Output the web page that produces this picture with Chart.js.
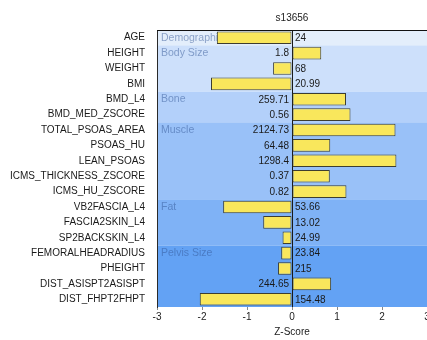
<!DOCTYPE html>
<html>
<head>
<meta charset="utf-8">
<script src="https://cdn.jsdelivr.net/npm/chart.js@4.4.1/dist/chart.umd.min.js"></script>
<style>
  html, body { margin: 0; padding: 0; background: #fff; overflow: hidden; }
  #wrap { width: 440px; height: 340px; position: relative; }
</style>
</head>
<body>
<div id="wrap"><canvas id="c"></canvas></div>
<script>
// Measurements, top to bottom
const categories = [
  'AGE', 'HEIGHT', 'WEIGHT', 'BMI', 'BMD_L4', 'BMD_MED_ZSCORE',
  'TOTAL_PSOAS_AREA', 'PSOAS_HU', 'LEAN_PSOAS', 'ICMS_THICKNESS_ZSCORE', 'ICMS_HU_ZSCORE',
  'VB2FASCIA_L4', 'FASCIA2SKIN_L4', 'SP2BACKSKIN_L4',
  'FEMORALHEADRADIUS', 'PHEIGHT', 'DIST_ASISPT2ASISPT', 'DIST_FHPT2FHPT'
];
// Z-score for each measurement
const zScores = [
  -1.67, 0.65, -0.42, -1.80, 1.20, 1.30,
  2.30, 0.85, 2.32, 0.84, 1.21,
  -1.53, -0.64, -0.21,
  -0.24, -0.31, 0.87, -2.05
];
// Raw measured value shown next to each bar
const rawValues = [
  '24', '1.8', '68', '20.99', '259.71', '0.56',
  '2124.73', '64.48', '1298.4', '0.37', '0.82',
  '53.66', '13.02', '24.99',
  '23.84', '215', '244.65', '154.48'
];
// Measurement groups and how many rows each spans
const groupNames = ['Demographic', 'Body Size', 'Bone', 'Muscle', 'Fat', 'Pelvis Size'];
const groupSizes = [1, 3, 2, 5, 3, 4];
const xTicks = [-3, -2, -1, 0, 1, 2, 3];
const subjectId = 's13656';

const bandColors = ['#e3eefb', '#cde0fb', '#b3d0fa', '#99c1f8', '#7fb2f6', '#63a2f4'];
const FONT = 'Liberation Sans, Arial, sans-serif';

const groupBands = {
  id: 'groupBands',
  beforeDraw(chart) {
    const { ctx, chartArea: a, scales: { y } } = chart;
    const half = (y.getPixelForValue(1) - y.getPixelForValue(0)) / 2;
    let idx = 0;
    ctx.save();
    groupSizes.forEach((n, g) => {
      const top = y.getPixelForValue(idx) - half;
      const bottom = y.getPixelForValue(idx + n - 1) + half;
      ctx.fillStyle = bandColors[g];
      ctx.fillRect(a.left, top, a.right - a.left, bottom - top);
      idx += n;
    });
    ctx.restore();
  },
  beforeDatasetsDraw(chart) {
    const { ctx, chartArea: a, scales: { y } } = chart;
    let idx = 0;
    ctx.save();
    ctx.font = '10.5px ' + FONT;
    ctx.textAlign = 'left';
    ctx.textBaseline = 'middle';
    ctx.fillStyle = 'rgba(50, 85, 150, 0.5)';
    groupSizes.forEach((n, g) => {
      ctx.fillText(groupNames[g], a.left + 4, y.getPixelForValue(idx));
      idx += n;
    });
    ctx.restore();
  },
  afterDatasetsDraw(chart) {
    const { ctx, scales: { x, y } } = chart;
    const zero = x.getPixelForValue(0);
    ctx.save();
    ctx.font = '10px ' + FONT;
    ctx.textBaseline = 'middle';
    ctx.fillStyle = '#1a1a1a';
    zScores.forEach((z, i) => {
      const py = y.getPixelForValue(i) + 0.5;
      if (z >= 0) {
        ctx.textAlign = 'right';
        ctx.fillText(rawValues[i], zero - 3, py);
      } else {
        ctx.textAlign = 'left';
        ctx.fillText(rawValues[i], zero + 3, py);
      }
    });
    ctx.restore();
  },
  afterDraw(chart) {
    const { ctx, chartArea: a } = chart;
    ctx.save();
    ctx.strokeStyle = '#111';
    ctx.lineWidth = 1;
    ctx.beginPath();
    ctx.moveTo(a.left, Math.round(a.top) + 0.5);
    ctx.lineTo(a.right, Math.round(a.top) + 0.5);
    ctx.stroke();
    ctx.font = '10px ' + FONT;
    ctx.fillStyle = '#222';
    ctx.textAlign = 'center';
    ctx.textBaseline = 'middle';
    ctx.fillText(subjectId, (a.left + a.right) / 2, 18);
    ctx.restore();
  }
};

new Chart(document.getElementById('c'), {
  type: 'bar',
  data: {
    labels: categories,
    datasets: [{
      data: zScores,
      backgroundColor: '#f9e75c',
      borderColor: '#3d3d30',
      borderWidth: 1,
      borderSkipped: false,
      barPercentage: 0.82,
      categoryPercentage: 1.0
    }]
  },
  options: {
    indexAxis: 'y',
    responsive: true,
    maintainAspectRatio: false,
    animation: false,
    layout: { padding: { top: 30, left: 0, right: 13, bottom: 0 } },
    plugins: {
      legend: { display: false },
      title: { display: false },
      tooltip: { enabled: false }
    },
    scales: {
      x: {
        min: -3,
        max: 3,
        afterBuildTicks(scale) { scale.ticks = xTicks.map(v => ({ value: v })); },
        afterFit(scale) { scale.height = 33; },
        grid: {
          display: true,
          drawOnChartArea: true,
          color: ctx => (ctx.tick && ctx.tick.value === 0) ? '#1a1a1a' : 'rgba(0,0,0,0)',
          tickColor: '#888',
          tickLength: 3
        },
        border: { display: false },
        ticks: {
          font: { family: FONT, size: 10 },
          color: '#222',
          padding: 1,
          maxRotation: 0
        },
        title: {
          display: true,
          text: 'Z-Score',
          font: { family: FONT, size: 10 },
          color: '#222',
          padding: { top: 0, bottom: 2 }
        }
      },
      y: {
        afterFit(scale) { scale.width = 157; },
        grid: { display: false },
        border: { display: true, color: '#2a2a2a', width: 1 },
        ticks: {
          font: { family: FONT, size: 10 },
          color: '#1a1a1a',
          padding: 4,
          autoSkip: false
        }
      }
    }
  },
  plugins: [groupBands]
});
</script>
</body>
</html>
